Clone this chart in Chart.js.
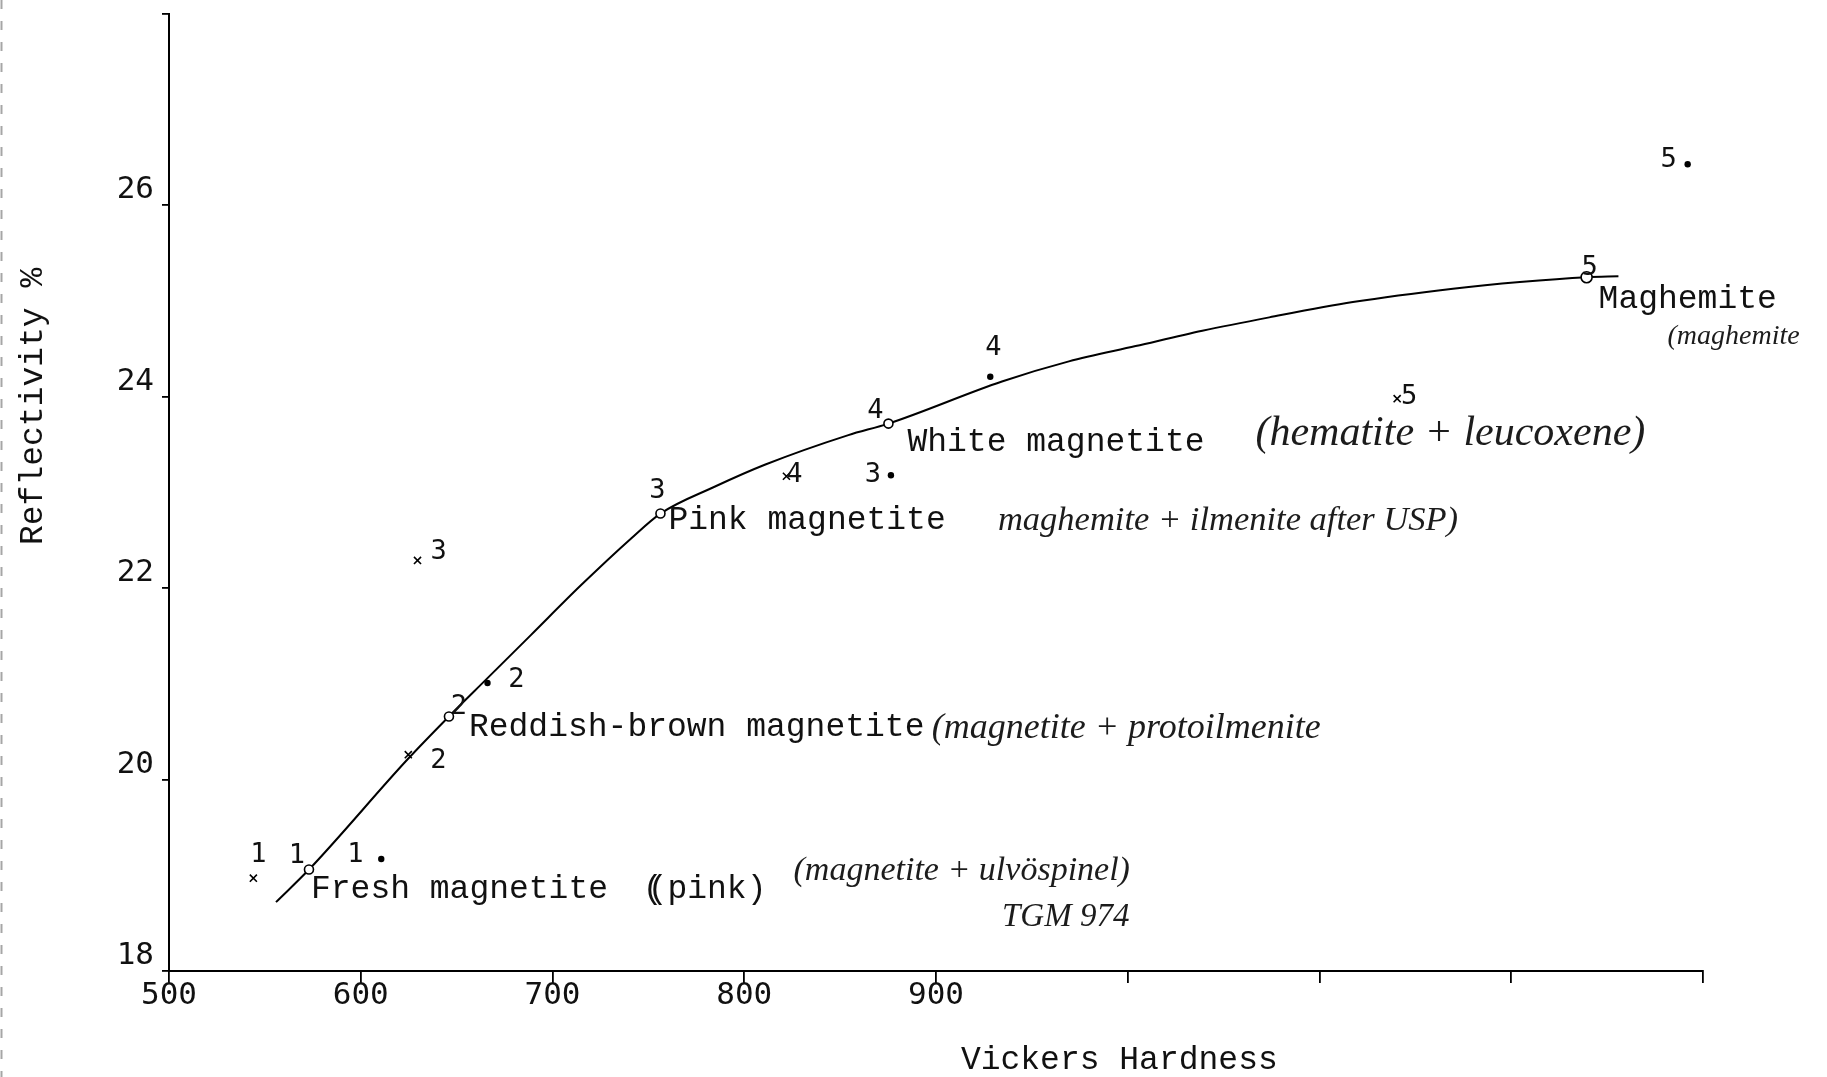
<!DOCTYPE html>
<html>
<head>
<meta charset="utf-8">
<title>Reflectivity vs Vickers hardness</title>
<script src="https://cdn.jsdelivr.net/npm/chart.js@4.4.1/dist/chart.umd.min.js"></script>
<style>
  html, body { margin: 0; padding: 0; background: #fff; }
  canvas { display: block; }
</style>
</head>
<body>
<canvas id="chart" width="1827" height="1077"></canvas>
<script>
// Smoothed trend through the type specimens (Vickers hardness vs reflectivity %)
const curveHardness = [555.8, 573.0, 624.8, 646.0, 666.1, 688.7, 714.8, 741.0, 756.3, 784.5, 810.7, 854.3, 875.2, 934.4, 969.3, 1004.1, 1038.9, 1073.8, 1117.4, 1169.6, 1204.5, 1239.3, 1255.9];
const curveReflect  = [18.72, 19.06, 20.22, 20.66, 21.06, 21.51, 22.03, 22.52, 22.78, 23.06, 23.29, 23.60, 23.72, 24.16, 24.37, 24.53, 24.69, 24.83, 24.99, 25.13, 25.20, 25.25, 25.26];

// Type specimens (open circles on the curve)
const specimenHardness = [573.0, 646.0, 756.3, 875.2, 1239.3];
const specimenReflect  = [19.06, 20.66, 22.78, 23.72, 25.25];
const specimenNumbers  = ['1', '2', '3', '4', '5'];
const specimenNames    = ['Fresh magnetite  (pink)', 'Reddish-brown magnetite', 'Pink magnetite', 'White magnetite', 'Maghemite'];

// Second set of measurements (crosses)
const crossHardness = [544.0, 624.8, 629.6, 822.0, 1140.5];
const crossReflect  = [18.97, 20.26, 22.29, 23.17, 23.98];
const crossNumbers  = ['1', '2', '3', '4', '5'];

// Third set of measurements (dots)
const dotHardness = [610.7, 666.1, 876.5, 928.3, 1292.0];
const dotReflect  = [19.17, 21.01, 23.18, 24.21, 26.43];
const dotNumbers  = ['1', '2', '3', '4', '5'];

// Axis ticks
const xTickLabels = ['500', '600', '700', '800', '900', '', '', '', ''];
const yTickLabels = ['18', '20', '22', '24', '26', ''];

// Pencilled mineral assemblages
const noteTexts = [
  '(hematite + leucoxene)',
  'maghemite + ilmenite after USP)',
  '(magnetite + protoilmenite',
  '(magnetite + ulvöspinel)',
  'TGM 974',
  '(maghemite'
];

const INK = '#111';
const TYPE_FONT = '"Liberation Mono", "DejaVu Sans Mono", monospace';
const DIGIT_FONT = '"DejaVu Sans Mono", "Liberation Mono", monospace';
const HAND_FONT = '"Liberation Serif", "DejaVu Serif", serif';

const toPoints = (xs, ys) => xs.map((x, i) => ({ x, y: ys[i] }));

// Numbers, names, notes and axis titles drawn onto the canvas
const annotate = {
  id: 'annotate',
  beforeDraw(chart) {
    const ctx = chart.ctx;
    ctx.save();
    ctx.strokeStyle = 'rgba(0,0,0,0.35)';
    ctx.lineWidth = 2;
    ctx.setLineDash([9, 12]);
    ctx.beginPath();
    ctx.moveTo(1.5, 0);
    ctx.lineTo(1.5, chart.height);
    ctx.stroke();
    ctx.restore();
  },
  afterDatasetsDraw(chart, args, opts) {
    const ctx = chart.ctx;
    const xs = chart.scales.x, ys = chart.scales.y;
    ctx.save();
    ctx.fillStyle = INK;

    // number tags beside each mark
    ctx.font = '27px ' + DIGIT_FONT;
    ctx.textAlign = 'center';
    ctx.textBaseline = 'middle';
    opts.numberOffsets.forEach((offsets, di) => {
      const ds = chart.data.datasets[opts.numberedSets[di]];
      const meta = chart.getDatasetMeta(opts.numberedSets[di]);
      meta.data.forEach((el, i) => {
        ctx.fillText(ds.numbers[i], el.x + offsets[i][0], el.y + offsets[i][1]);
      });
    });

    // typed specimen names
    ctx.font = '33px ' + TYPE_FONT;
    ctx.textAlign = 'left';
    ctx.textBaseline = 'alphabetic';
    const spec = chart.getDatasetMeta(1);
    spec.data.forEach((el, i) => {
      const [dx, dy] = opts.nameOffsets[i];
      ctx.fillText(chart.data.datasets[1].names[i], el.x + dx, el.y + dy);
    });
    // overstruck bracket of "(pink)"
    {
      const el = spec.data[0];
      const [dx, dy] = opts.nameOffsets[0];
      const adv = ctx.measureText('M').width;
      ctx.fillText('(', el.x + dx + adv * 17 - 5, el.y + dy);
    }

    // handwritten notes
    ctx.fillStyle = '#1c1c1c';
    opts.notes.forEach((n, i) => {
      let size = 36;
      ctx.font = 'italic ' + size + 'px ' + HAND_FONT;
      const w = ctx.measureText(noteTexts[i]).width;
      size = Math.min(n.maxSize, size * n.width / w);
      ctx.font = 'italic ' + size.toFixed(1) + 'px ' + HAND_FONT;
      ctx.fillText(noteTexts[i], xs.getPixelForValue(n.x), ys.getPixelForValue(n.y));
    });

    // axis titles
    ctx.fillStyle = INK;
    ctx.font = '33px ' + TYPE_FONT;
    ctx.textAlign = 'center';
    ctx.textBaseline = 'middle';
    ctx.fillText('Vickers Hardness', xs.getPixelForValue(995.6), chart.chartArea.bottom + 89);
    ctx.translate(33, ys.getPixelForValue(23.9));
    ctx.rotate(-Math.PI / 2);
    ctx.fillText('Reflectivity %', 0, 0);
    ctx.restore();
  }
};

const axisCommon = {
  grid: { drawOnChartArea: false, drawTicks: true, color: '#000', lineWidth: 1.8 },
  border: { color: '#000', width: 2 }
};

new Chart(document.getElementById('chart'), {
  type: 'scatter',
  data: {
    datasets: [
      {
        type: 'line',
        data: toPoints(curveHardness, curveReflect),
        borderColor: '#000',
        borderWidth: 2,
        pointRadius: 0,
        cubicInterpolationMode: 'monotone',
        fill: false,
        clip: false,
        order: 10
      },
      {
        data: toPoints(specimenHardness, specimenReflect),
        pointStyle: 'circle',
        pointRadius: [4.5, 4.5, 4.5, 4.5, 5.5],
        pointBackgroundColor: '#fff',
        pointBorderColor: '#000',
        pointBorderWidth: 1.6,
        clip: false,
        numbers: specimenNumbers,
        names: specimenNames
      },
      {
        data: toPoints(crossHardness, crossReflect),
        pointStyle: 'crossRot',
        pointRadius: 5,
        pointBorderColor: '#000',
        pointBorderWidth: 1.6,
        clip: false,
        numbers: crossNumbers
      },
      {
        data: toPoints(dotHardness, dotReflect),
        pointStyle: 'circle',
        pointRadius: 3.2,
        pointBackgroundColor: '#000',
        pointBorderColor: '#000',
        pointBorderWidth: 0,
        clip: false,
        numbers: dotNumbers
      }
    ]
  },
  options: {
    responsive: false,
    animation: false,
    devicePixelRatio: 1,
    layout: { padding: { top: 14, right: 124, left: 0, bottom: 0 } },
    plugins: {
      legend: { display: false },
      tooltip: { enabled: false },
      annotate: {
        numberedSets: [1, 2, 3],
        numberOffsets: [
          [[-12, -14], [10, -9], [-3, -23], [-13, -13], [3, -9]],
          [[5, -23], [30, 6], [21, -8], [8, -1], [12, -2]],
          [[-26, -4], [29, -3], [-18, 0], [3, -29], [-19, -4]]
        ],
        nameOffsets: [[2, 28], [20, 20], [8, 15], [19, 27], [12, 31]],
        notes: [
          { x: 1066.6, y: 23.50, width: 402, maxSize: 42 },
          { x: 932.3, y: 22.61, width: 460, maxSize: 35 },
          { x: 897.8, y: 20.43, width: 416, maxSize: 36 },
          { x: 825.7, y: 18.95, width: 350, maxSize: 34 },
          { x: 934.4, y: 18.47, width: 165, maxSize: 33 },
          { x: 1281.5, y: 24.55, width: 160, maxSize: 28 }
        ]
      }
    },
    scales: {
      x: {
        ...axisCommon,
        type: 'linear',
        min: 500,
        max: 1300,
        grid: { ...axisCommon.grid, tickLength: 12 },
        ticks: {
          stepSize: 100,
          autoSkip: false,
          maxRotation: 0,
          padding: -6,
          color: INK,
          font: { family: DIGIT_FONT, size: 31 },
          callback: (v, i) => xTickLabels[i]
        },
        afterFit: s => {
          s.height = 106;
          s.paddingLeft = 0; s.paddingRight = 0; s.paddingTop = 0; s.paddingBottom = 0;
        }
      },
      y: {
        ...axisCommon,
        type: 'linear',
        min: 18,
        max: 28,
        grid: { ...axisCommon.grid, tickLength: 7 },
        ticks: {
          stepSize: 2,
          autoSkip: false,
          padding: 8,
          labelOffset: -15,
          color: INK,
          font: { family: DIGIT_FONT, size: 31 },
          callback: (v, i) => yTickLabels[i]
        },
        afterFit: s => {
          s.width = 169;
          s.paddingLeft = 0; s.paddingRight = 0; s.paddingTop = 0; s.paddingBottom = 0;
        }
      }
    }
  },
  plugins: [annotate]
});
</script>
</body>
</html>
